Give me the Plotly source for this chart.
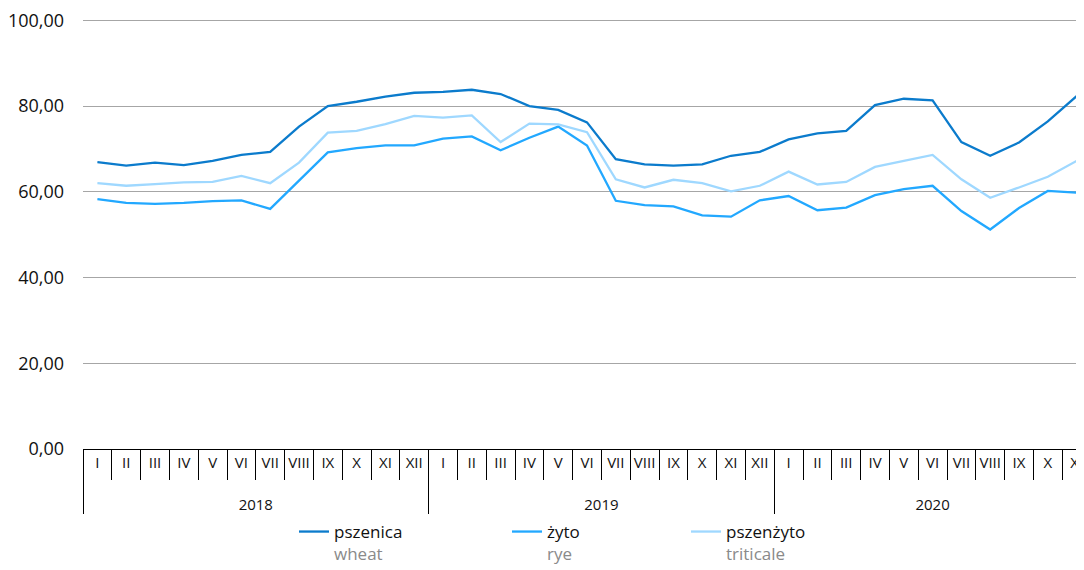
import plotly.graph_objects as go

years = ["2018"] * 12 + ["2019"] * 12 + ["2020"] * 11
months = ["I", "II", "III", "IV", "V", "VI", "VII", "VIII", "IX", "X", "XI", "XII"]
month_labels = months * 2 + months[:11]

wheat = [66.9, 66.1, 66.8, 66.2, 67.2, 68.6, 69.3, 75.2, 80.0, 81.0, 82.2, 83.1,
         83.3, 83.8, 82.8, 80.0, 79.1, 76.2, 67.6, 66.4, 66.1, 66.4, 68.4, 69.3,
         72.2, 73.6, 74.2, 80.2, 81.7, 81.3, 71.6, 68.4, 71.5, 76.4, 82.3]
rye = [58.3, 57.4, 57.2, 57.4, 57.8, 58.0, 56.0, 62.7, 69.2, 70.2, 70.8, 70.8,
       72.4, 72.9, 69.7, 72.6, 75.2, 70.8, 57.9, 56.9, 56.6, 54.5, 54.2, 58.0,
       59.0, 55.7, 56.3, 59.2, 60.6, 61.4, 55.5, 51.2, 56.2, 60.2, 59.8]
triticale = [62.0, 61.4, 61.8, 62.2, 62.3, 63.7, 62.0, 66.8, 73.8, 74.2, 75.8, 77.7,
             77.3, 77.8, 71.6, 75.9, 75.7, 73.9, 62.9, 61.0, 62.8, 62.0, 60.1, 61.4,
             64.7, 61.7, 62.3, 65.8, 67.2, 68.6, 62.9, 58.6, 61.0, 63.5, 67.2]

names = ["pszenica", "żyto", "pszenżyto"]
names_en = ["wheat", "rye", "triticale"]
colors = ["#0b7bcc", "#22a8ff", "#9fd8ff"]
series = [wheat, rye, triticale]

# the page body has an 8px margin: the figure is drawn 8px right/down
OFF = 8
W, H = 1084 - OFF, 570 - OFF
ML, MR, MT, MB = 83 - OFF, 0, 19 - OFF, 570 - 449
pw = W - ML - MR
ph = H - MT - MB

year_labels = ["<br>" + y for y in years]

legend_line_px = [300, 513, 692]   # viewport x of legend line starts

fig = go.Figure()
for i, (nm, en, col, vals) in enumerate(zip(names, names_en, colors, series)):
    fig.add_trace(go.Scatter(
        x=[year_labels, month_labels], y=vals, mode="lines",
        line=dict(color=col, width=2.3),
        name=f"{nm}<br><span style='color:#8a8a8a'>{en}</span>",
        legend="legend" if i == 0 else f"legend{i+1}",
    ))

FONT = "Open Sans"
leg_common = dict(orientation="h", yanchor="top", xanchor="left", valign="top",
                  xref="container", yref="container",
                  font=dict(family=FONT, size=17, color="#111111"),
                  bgcolor="rgba(0,0,0,0)", y=1 - (514 - OFF) / H)

layout = dict(
    width=W, height=H,
    margin=dict(l=ML, r=MR, t=MT, b=MB, autoexpand=False),
    paper_bgcolor="white", plot_bgcolor="white",
    separators=",.",
    font=dict(family=FONT, size=15, color="#111111"),
    showlegend=True,
    xaxis=dict(
        type="multicategory",
        automargin=False,
        range=[-0.5, -0.5 + pw / 28.8],
        showline=True, linecolor="#000000", linewidth=1,
        ticks="outside", tickson="boundaries", ticklen=30, tickcolor="#000000",
        tickangle=0,
        showdividers=True, dividercolor="#000000", dividerwidth=1,
        showgrid=False, zeroline=False,
        tickfont=dict(family=FONT, size=15, color="#111111"),
    ),
    yaxis=dict(
        automargin=False,
        range=[0, 100.3], tickvals=[0, 20, 40, 60, 80, 100], tickformat=".2f",
        showgrid=True, gridcolor="#a6a6a6", gridwidth=1,
        zeroline=False, showline=False, ticks="",
        tickfont=dict(family=FONT, size=18, color="#111111"),
        ticklabelstandoff=18, ticklabeloverflow="allow",
    ),
)
for i, px in enumerate(legend_line_px):
    key = "legend" if i == 0 else f"legend{i+1}"
    layout[key] = dict(leg_common, x=(px - 14) / W)

fig.update_layout(**layout)

# left edge divider line of the category axis
fig.add_shape(type="line", xref="x", yref="paper", x0=-0.5, x1=-0.5,
              y0=0, y1=-(510 - 449) / ph, line=dict(color="#000000", width=1))

fig.write_html("out.html")
